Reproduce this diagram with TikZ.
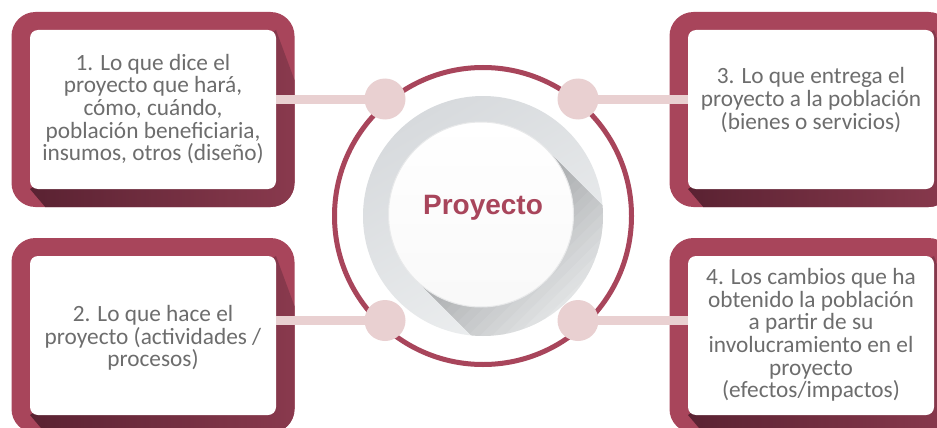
\documentclass[tikz,border=0pt]{standalone}
\usepackage{fontspec}
\setmainfont{Carlito}
\newfontfamily\headfont{Liberation Sans}
\definecolor{crim}{HTML}{A8455B}
\definecolor{crimdark}{HTML}{5A2232}
\definecolor{crimmid}{HTML}{8A3A4E}
\definecolor{pinkc}{HTML}{E9D0D1}
\definecolor{txtgray}{HTML}{6D6D6D}
\definecolor{graylo}{HTML}{D7DADD}
\definecolor{grayhi}{HTML}{EDEFF0}
\definecolor{shadowink}{HTML}{3A3C3E}
\definecolor{rimgray}{HTML}{E8E9EA}
\newcommand\mkshadow[2]{%
  \begin{scope}
    \clip[rounded corners=24pt] (#1-141.5,#2-97.5) rectangle (#1+141.5,#2+97.5);
    \shade[left color=crimdark, right color=crimmid]
      (#1+123,#2-79.5) -- (#1+147,#2-14.5) -- (#1+147,#2+105.5)
      -- (#1-101,#2+105.5) -- (#1-123,#2+79.5) -- cycle;
  \end{scope}}
\begin{document}
\begin{tikzpicture}[x=1pt,y=-1pt,
  outerbox/.style={fill=crim, rounded corners=24pt, minimum width=283pt,
    minimum height=195pt, inner sep=0pt},
  whitebox/.style={fill=white, rounded corners=8pt, minimum width=246pt,
    minimum height=159pt, inner sep=0pt},
  boxtext/.style={text=txtgray, align=center, inner sep=0pt,
    font=\fontsize{23.3}{22.6}\selectfont},
  bar/.style={draw=pinkc, line width=9pt},
  dot/.style={circle, fill=pinkc, minimum size=41pt, inner sep=0pt},
  ring/.style={circle, draw=crim, line width=5pt, minimum size=297pt, inner sep=0pt}]
\clip (0,0) rectangle (937,428);
\fill[white] (0,0) rectangle (937,428);

% outer boxes
\node[outerbox] (o1) at (153,109.5) {};
\node[outerbox] (o2) at (153,335.5) {};
\node[outerbox] (o3) at (811,109.5) {};
\node[outerbox] (o4) at (811,335.5) {};
\mkshadow{153}{109.5}
\mkshadow{153}{335.5}
\mkshadow{811}{109.5}
\mkshadow{811}{335.5}
\node[whitebox] (w1) at (153,109.5) {};
\node[whitebox] (w2) at (153,335.5) {};
\node[whitebox] (w3) at (811,109.5) {};
\node[whitebox] (w4) at (811,335.5) {};

% central circle
\node[ring] (ring) at (483,216) {};
\shade[left color=graylo, right color=grayhi, shading angle=30] (483,216) circle[radius=120];
\node[circle, minimum size=240pt, inner sep=0pt] (disc) at (483,216) {};
\begin{scope}
  \clip (483,216) circle[radius=120];
  \foreach \l in {6,12,...,96}
    \fill[shadowink, opacity=0.022]
      (546.4,149.1) -- ++(\l,\l) -- ++(-130.8,130.8) -- (415.6,279.9) -- cycle;
\end{scope}
\node[circle, minimum size=185pt, inner sep=0pt, draw=rimgray, line width=1pt,
  top color=white, bottom color=white!95!gray] (core) at (481,214.5) {};
\node[text=crim, font=\headfont\bfseries\fontsize{28}{30}\selectfont, anchor=base,
  inner sep=0pt] (title) at (483,214) {Proyecto};

% dots and bars
\coordinate (c1) at (385,99);
\coordinate (c2) at (578,99);
\coordinate (c3) at (385,320.5);
\coordinate (c4) at (578,320.5);
\draw[bar] (w1.east |- c1) -- (c1);
\draw[bar] (c2) -- (w3.west |- c2);
\draw[bar] (w2.east |- c3) -- (c3);
\draw[bar] (c4) -- (w4.west |- c4);
\node[dot] (d1) at (c1) {};
\node[dot] (d2) at (c2) {};
\node[dot] (d3) at (c3) {};
\node[dot] (d4) at (c4) {};

% texts
\node[boxtext] (t1) at (153,109) {1. Lo que dice el\\proyecto que hará,\\cómo, cuándo,\\población beneficiaria,\\insumos, otros (diseño)};
\node[boxtext] (t2) at (153,338) {2. Lo que hace el\\proyecto (actividades /\\procesos)};
\node[boxtext] (t3) at (811,100) {3. Lo que entrega el\\proyecto a la población\\(bienes o servicios)};
\node[boxtext] (t4) at (811,335) {4. Los cambios que ha\\obtenido la población\\a partir de su\\involucramiento en el\\proyecto\\(efectos/impactos)};
\end{tikzpicture}
\end{document}
